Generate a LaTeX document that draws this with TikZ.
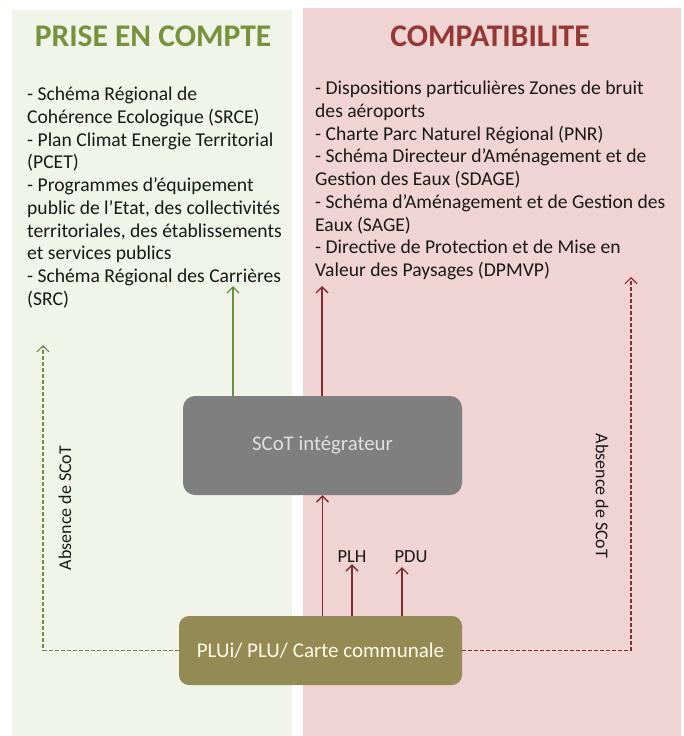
\documentclass[tikz,border=0pt]{standalone}
\usepackage{fontspec}
\setmainfont{Carlito}
\usetikzlibrary{arrows.meta}
\definecolor{greenbg}{RGB}{240,244,233}
\definecolor{redbg}{RGB}{240,211,211}
\definecolor{titlegreen}{RGB}{118,146,60}
\definecolor{titlered}{RGB}{149,55,53}
\definecolor{arrgreen}{RGB}{110,140,70}
\definecolor{arrred}{RGB}{128,45,50}
\definecolor{scotgray}{RGB}{127,127,127}
\definecolor{pluolive}{RGB}{148,138,84}
\definecolor{bodytext}{RGB}{25,25,25}
\tikzset{
  titletext/.style={font=\bfseries\fontsize{31.5}{34}\selectfont, inner sep=0pt},
  bodyblock/.style={font=\fontsize{19.6}{22.7}\selectfont, text=bodytext, align=left, anchor=north west, inner sep=0pt},
  rotlabel/.style={font=\fontsize{18}{22}\selectfont, text=bodytext, inner sep=0pt},
  garrow/.style={draw=arrgreen, line width=1.4pt, -{Straight Barb[length=6pt,width=12pt]}},
  rarrow/.style={draw=arrred, line width=1.4pt, -{Straight Barb[length=6pt,width=12pt]}},
  gdash/.style={garrow, line width=1.1pt, dash pattern=on 4pt off 2pt},
  rdash/.style={rarrow, line width=1.1pt, dash pattern=on 4pt off 2pt},
  scotbox/.style={fill=scotgray, rounded corners=12pt, minimum width=279pt, minimum height=99pt, text=white!88!black, font=\fontsize{20.8}{24}\selectfont},
  plubox/.style={fill=pluolive, rounded corners=10pt, minimum width=283pt, minimum height=69pt, text=white!92!yellow, font=\fontsize{21}{25}\selectfont},
  smalllabel/.style={font=\fontsize{18.5}{22}\selectfont, text=bodytext, inner sep=1pt}
}
\begin{document}
\begin{tikzpicture}[x=1pt,y=-1pt]
\useasboundingbox (0,0) rectangle (684,736);
\fill[white] (0,0) rectangle (684,736);
\fill[greenbg] (12,10) rectangle (292,736);
\fill[redbg] (303,8) rectangle (681,736);

\node[titletext, text=titlegreen] (t1) at (153,36) {PRISE EN COMPTE};
\node[titletext, text=titlered] (t2) at (490,36) {COMPATIBILITE};

\node[bodyblock] (leftlist) at (27,87) {- Schéma Régional de\\Cohérence Ecologique (SRCE)\\- Plan Climat Energie Territorial\\(PCET)\\- Programmes d’équipement\\public de l’Etat, des collectivités\\territoriales, des établissements\\et services publics\\- Schéma Régional des Carrières\\(SRC)};

\node[bodyblock] (rightlist) at (315,81) {- Dispositions particulières Zones de bruit\\des aéroports\\- Charte Parc Naturel Régional (PNR)\\- Schéma Directeur d’Aménagement et de\\Gestion des Eaux (SDAGE)\\- Schéma d’Aménagement et de Gestion des\\Eaux (SAGE)\\- Directive de Protection et de Mise en\\Valeur des Paysages (DPMVP)};

\node[scotbox] (scot) at (322.5,445.5) {SCoT intégrateur};
\node[plubox] (plu) at (320.5,650.5) {PLUi/ PLU/ Carte communale};

\node[smalllabel] (plh) at (352,557) {PLH};
\node[smalllabel] (pdu) at (411,557) {PDU};

\coordinate (gtip) at (233,286);
\coordinate (rtip) at (322,286);
\coordinate (ltip) at (43,345);
\coordinate (rdtip) at (631,277);
\coordinate (pdutip) at (402,567);

\draw[garrow] (scot.north -| gtip) -- (gtip);
\draw[rarrow] (scot.north -| rtip) -- (rtip);
\draw[rarrow] (plu.north -| scot.south) -- (scot.south);
\draw[rarrow] (plu.north -| plh.south) -- (plh.south);
\draw[rarrow] (plu.north -| pdutip) -- (pdutip);
\draw[gdash] (plu.west) -| (ltip);
\draw[rdash] (plu.east) -| (rdtip);

\node[rotlabel, rotate=90] (abs1) at (65,508) {Absence de SCoT};
\node[rotlabel, rotate=-90] (abs2) at (602,496) {Absence de SCoT};
\end{tikzpicture}
\end{document}
